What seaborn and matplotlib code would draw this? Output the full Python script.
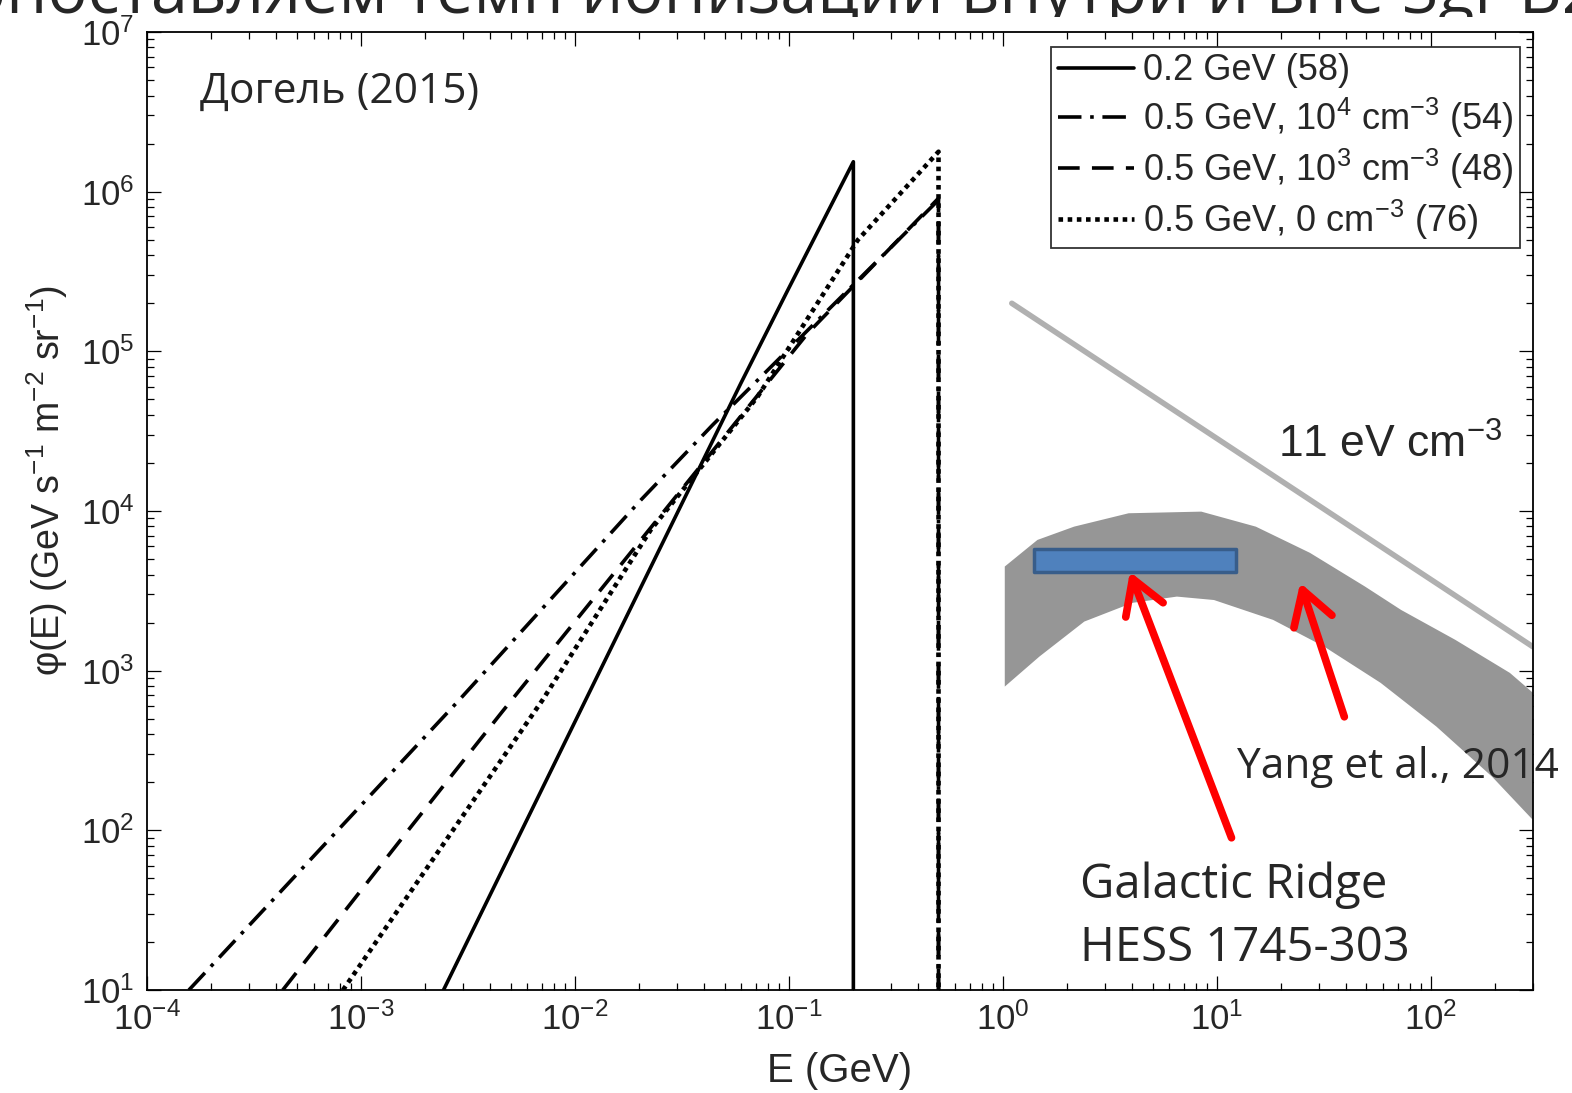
import numpy as np
import pandas as pd
import matplotlib
matplotlib.use("Agg")
import matplotlib.pyplot as plt
import seaborn as sns
from matplotlib.lines import Line2D
from matplotlib.patches import Rectangle
from matplotlib.ticker import LogLocator, NullFormatter

# ---------------- data ----------------
# 0.2 GeV (58) - solid
E_02 = [2.43e-3, 0.0597, 0.0988, 0.2, 0.2]
phi_02 = [10, 6.34e4, 2.42e5, 1.54e6, 1]
# 0.5 GeV, 1e4 cm^-3 (54) - dash-dot
E_05a = [1.57e-4, 2.88e-3, 0.0203, 0.0440, 0.5, 0.5]
phi_05a = [10, 656, 1.17e4, 3.46e4, 8.87e5, 1]
# 0.5 GeV, 1e3 cm^-3 (48) - dashed
E_05b = [4.31e-4, 1.70e-3, 4.58e-3, 0.1225, 0.5, 0.5]
phi_05b = [10, 104, 555, 1.30e5, 9.1e5, 1]
# 0.5 GeV, 0 cm^-3 (76) - dotted
E_05c = [8.24e-4, 7.06e-3, 0.0226, 0.0714, 0.210, 0.5, 0.5]
phi_05c = [10, 656, 7620, 5.2e4, 4.99e5, 1.78e6, 1]

# 11 eV cm^-3 reference line
E_ref = [1.10, 300]
phi_ref = [2.0e5, 1410]

# Yang et al. 2014 band
E_band_up = [1.02, 1.45, 2.15, 3.87, 8.45, 15.2, 27.2, 49.1, 72.6, 130, 234, 300]
phi_band_up = [4490, 6590, 7980, 9680, 9910, 7980, 5470, 3370, 2400, 1560, 968, 726]
E_band_lo = [1.02, 1.48, 2.40, 4.03, 6.50, 9.69, 18.3, 31.7, 58.2, 106, 193, 300]
phi_band_lo = [795, 1225, 2030, 2660, 2910, 2770, 2080, 1415, 839, 447, 217, 116]

# Galactic Ridge HESS 1745-303 box
E_box = [1.40, 12.3]
phi_box_lo = 4160
phi_box_hi = 5800

# arrows (tail -> head) in data units
arrow1 = dict(tail=(11.7, 89.8), head=(3.92, 4160))
arrow2 = dict(tail=(39.4, 514), head=(24.5, 3550))

labels = ["0.2 GeV (58)",
          r"0.5 GeV, 10$^4$ cm$^{-3}$ (54)",
          r"0.5 GeV, 10$^3$ cm$^{-3}$ (48)",
          r"0.5 GeV, 0 cm$^{-3}$ (76)"]

# ---------------- style ----------------
sns.set_theme(style="white")
plt.rcParams["font.family"] = ["Liberation Sans", "DejaVu Sans"]
plt.rcParams["mathtext.fontset"] = "custom"
plt.rcParams["mathtext.rm"] = "Liberation Sans"
plt.rcParams["mathtext.it"] = "Liberation Sans:italic"
plt.rcParams["mathtext.bf"] = "Liberation Sans:bold"

W, H = 1572, 1093
fig = plt.figure(figsize=(W / 100, H / 100), dpi=100)
fig.patch.set_facecolor("white")
L, R, T, B = 147, 1533, 32, 990
ax = fig.add_axes([L / W, 1 - B / H, (R - L) / W, (B - T) / H])
ax.set_xscale("log")
ax.set_yscale("log")
ax.set_xlim(1e-4, 300)
ax.set_ylim(10, 1e7)

lw = 2.6
styles = ["-", (0, (6.5, 2.4, 1, 2.4)), (0, (6, 3.4)), (0, (1, 1))]
lws = [lw, lw, lw, 3.3]
series = [(E_02, phi_02), (E_05a, phi_05a), (E_05b, phi_05b), (E_05c, phi_05c)]

# band + reference line
ax.fill(np.concatenate([E_band_up, E_band_lo[::-1]]),
        np.concatenate([phi_band_up, phi_band_lo[::-1]]),
        color="#969696", lw=0, zorder=1)
sns.lineplot(x=E_ref, y=phi_ref, ax=ax, color="#b0b0b0", lw=4, legend=False,
             estimator=None, sort=False, zorder=2)

for (E, p), ls, w in zip(series, styles, lws):
    df = pd.DataFrame({"E": E, "phi": p})
    sns.lineplot(data=df, x="E", y="phi", ax=ax, color="black", lw=w,
                 linestyle=ls, estimator=None, sort=False, legend=False,
                 zorder=3)

ax.fill_between(E_box, phi_box_lo, phi_box_hi, facecolor="#4f81bd",
                edgecolor="#385d8a", lw=2.5, zorder=4)

for a in (arrow1, arrow2):
    ax.annotate("", xy=a["head"], xytext=a["tail"],
                arrowprops=dict(arrowstyle="->,head_length=1.0,head_width=0.6",
                                color="#ff0000", lw=5.5, mutation_scale=24,
                                shrinkA=0, shrinkB=0),
                zorder=5)

# axes styling
for s in ax.spines.values():
    s.set_color("black")
    s.set_linewidth(1.3)
ax.xaxis.set_major_locator(LogLocator(base=10, numticks=20))
ax.yaxis.set_major_locator(LogLocator(base=10, numticks=20))
ax.xaxis.set_minor_locator(LogLocator(base=10, subs=np.arange(2, 10), numticks=100))
ax.yaxis.set_minor_locator(LogLocator(base=10, subs=np.arange(2, 10), numticks=100))
ax.xaxis.set_minor_formatter(NullFormatter())
ax.yaxis.set_minor_formatter(NullFormatter())
ax.tick_params(which="both", direction="in", top=True, right=True,
               bottom=True, left=True, color="black", width=0.9)
ax.tick_params(which="major", length=10, labelsize=25, pad=9)
ax.tick_params(which="minor", length=5)
ax.set_xlabel("E (GeV)", fontsize=29)
ax.xaxis.set_label_coords(0.5, -(1052 - B) / (B - T))
ax.xaxis.label.set_va("top")
ax.set_ylabel(r"φ(E) (GeV s$^{-1}$ m$^{-2}$ sr$^{-1}$)", fontsize=27)
ax.yaxis.set_label_coords(-(147 - 70) / (R - L), (B - 480) / (B - T))
ax.grid(False)

handles = [Line2D([], [], color="black", lw=w, linestyle=ls) for ls, w in zip(styles, lws)]
leg = ax.legend(handles, labels, loc="upper right",
                bbox_to_anchor=((1520 - L) / (R - L), 1 - (47 - T) / (B - T)),
                borderaxespad=0, fontsize=26, frameon=True, fancybox=False,
                handlelength=2.1, handletextpad=0.25, labelspacing=0.19,
                borderpad=0.18)
leg.get_frame().set_edgecolor("black")
leg.get_frame().set_linewidth(1.3)

# texts
def ftext(x, y, s, **kw):
    return fig.text(x / W, 1 - y / H, s, **kw)

OS = ["Open Sans", "DejaVu Sans"]
ftext(200, 103, "Догель (2015)", fontsize=30.5, family=OS, va="baseline", ha="left")
ftext(1278, 458, r"11 eV cm$^{\mathregular{-3}}$", fontsize=32, va="baseline", ha="left")
ftext(1237, 778, "Yang et al., 2014", fontsize=30.5, family=OS, va="baseline", ha="left")
ftext(1080, 898, "Galactic Ridge", fontsize=34, family=OS, va="baseline", ha="left")
ftext(1080, 961, "HESS 1745-303", fontsize=34, family=OS, va="baseline", ha="left")

# slide title, partly hidden behind the chart picture
ttl = ftext(1600, 13, "Сопоставляем темп ионизации внутри и вне Sgr B2", fontsize=48,
            family=OS, va="baseline", ha="right")
ttl.set_zorder(-2)
fig.patches.append(Rectangle((0, 0), 1, 1 - 17 / H, transform=fig.transFigure,
                             facecolor="white", edgecolor="none", zorder=-1))

fig.savefig("out.png", dpi=100, facecolor="white")
